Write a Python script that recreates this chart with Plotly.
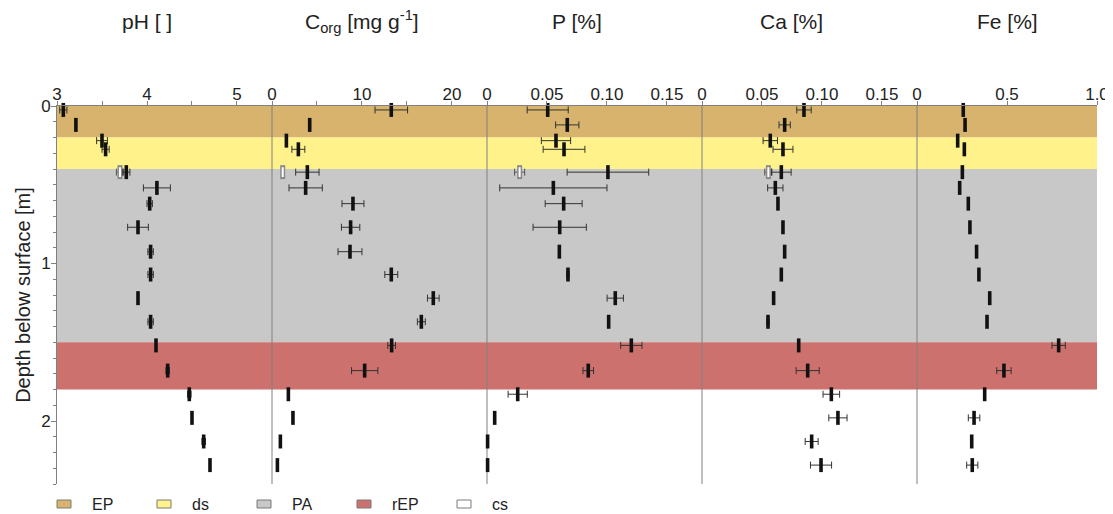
import plotly.graph_objects as go

# ---------------- data ----------------
depth = [0.025, 0.12, 0.22, 0.275, 0.42, 0.52, 0.62, 0.77, 0.925, 1.07,
         1.22, 1.37, 1.52, 1.68, 1.83, 1.98, 2.13, 2.28]

ph = [3.07, 3.21, 3.50, 3.54, 3.77, 4.11, 4.03, 3.90, 4.04, 4.04,
      3.90, 4.04, 4.10, 4.23, 4.47, 4.50, 4.63, 4.70]
ph_err = [0.04, None, 0.06, 0.04, 0.04, 0.15, 0.03, 0.115, 0.03, 0.03,
          None, 0.03, None, 0.02, 0.02, None, 0.02, None]

corg = [13.26, 4.19, 1.6, 2.93, 3.93, 3.74, 9.0, 8.74, 8.67, 13.26,
        17.93, 16.6, 13.3, 10.3, 1.82, 2.33, 0.93, 0.6]
corg_err = [1.81, 0.1, None, 0.72, 1.3, 1.85, 1.22, 1.02, 1.33, 0.72,
            0.65, 0.44, 0.43, 1.46, None, None, None, None]

p = [0.0506, 0.0669, 0.0575, 0.0642, 0.1008, 0.0553, 0.0639, 0.0606, 0.0603, 0.0675,
     0.1069, 0.1014, 0.1203, 0.0844, 0.0256, 0.0064, 0.0005, 0.0005]
p_err = [0.0171, 0.0097, 0.0122, 0.0174, 0.034, 0.0447, 0.0154, 0.0222, None, 0.001,
         0.0068, None, 0.0089, 0.0044, 0.008, None, None, None]

ca = [0.085, 0.0689, 0.0569, 0.0675, 0.0661, 0.0611, 0.0633, 0.0675, 0.0689, 0.0661,
      0.0597, 0.055, 0.0806, 0.0881, 0.1078, 0.1133, 0.0914, 0.0992]
ca_err = [0.006, 0.0047, 0.006, 0.0083, 0.0082, 0.0064, None, None, None, None,
          None, 0.001, None, 0.0096, 0.0069, 0.0076, 0.0054, 0.0088]

fe = [0.257, 0.267, 0.226, 0.263, 0.252, 0.237, 0.285, 0.294, 0.331, 0.344,
      0.404, 0.389, 0.787, 0.483, 0.376, 0.317, 0.304, 0.307]
fe_err = [None, None, None, None, None, None, None, None, None, None,
          None, None, 0.037, 0.04, None, 0.032, None, 0.031]

# cs (open symbols) samples
cs_depth = [0.42]
cs_ph = [3.70]
cs_ph_err = [0.04]
cs_corg = [1.19]
cs_corg_err = [None]
cs_p = [0.0272]
cs_p_err = [0.0042]
cs_ca = [0.0553]
cs_ca_err = [0.003]

# horizons
hz_names = ["EP", "ds", "PA", "rEP", "cs"]
hz_top = [0.0, 0.2, 0.4, 1.5]
hz_bot = [0.2, 0.4, 1.5, 1.8]
hz_colors = ["#D7B36D", "#FFF28A", "#C8C8C8", "#CC716D", "#FFFFFF"]

# panels
titles = ["pH [ ]", "C<sub>org</sub> [mg g<sup>-1</sup>]", "P [%]", "Ca [%]", "Fe [%]"]
title_pos = [4, 10, 0.075, 0.075, 0.5]
ranges = [[3, 5.389], [0, 23.9], [0, 0.1792], [0, 0.1792], [0, 1.0]]
tickvals = [[3, 4, 5], [0, 10, 20], [0, 0.05, 0.10, 0.15], [0, 0.05, 0.10, 0.15], [0, 0.5, 1.0]]
ticktext = [["3", "4", "5"], ["0", "10", "20"], ["0", "0.05", "0.10", "0.15"],
            ["0", "0.05", "0.10", "0.15"], ["0", "0.5", "1.0"]]
minor_dtick = [0.5, 5, None, None, None]

# ---------------- figure geometry ----------------
W, H = 1113, 514
OFF = 8                      # page body margin
PL, PR, PT, PB = 57, 1097, 106, 484   # plot area in screenshot pixels
ML = PL - OFF
MT = PT - OFF
MR = W - (PR - OFF)
MB = H - (PB - OFF)
PW = PR - PL
PHH = PB - PT
panel_px = [0, 215, 430, 645, 860, 1040]
domains = [[panel_px[i] / PW, panel_px[i + 1] / PW] for i in range(5)]


def py(ys):  # screenshot y -> paper y
    return (PB - ys) / PHH


def px(xs):  # screenshot x -> paper x
    return (xs - PL) / PW


FONT = "Liberation Sans, Arial, sans-serif"
AX = "#808080"
TXT = "#222222"

fig = go.Figure()

series = [(ph, ph_err), (corg, corg_err), (p, p_err), (ca, ca_err), (fe, fe_err)]
cs_series = [(cs_ph, cs_ph_err), (cs_corg, cs_corg_err), (cs_p, cs_p_err), (cs_ca, cs_ca_err)]

for i, (vals, errs) in enumerate(series):
    xa = "x" if i == 0 else f"x{i+1}"
    if i < len(cs_series):
        cv, ce = cs_series[i]
        fig.add_trace(go.Scatter(
            x=cv, y=cs_depth, xaxis=xa, yaxis="y", mode="markers", showlegend=False,
            error_x=dict(type="data", array=ce, visible=True, color="#555555", thickness=1, width=3.5),
            marker=dict(symbol="line-ns", size=10, line=dict(width=5, color="#8a8a8a")),
            cliponaxis=False, hoverinfo="skip"))
        fig.add_trace(go.Scatter(
            x=cv, y=cs_depth, xaxis=xa, yaxis="y", mode="markers", showlegend=False,
            marker=dict(symbol="line-ns", size=7, line=dict(width=2, color="#ffffff")),
            cliponaxis=False, hoverinfo="skip"))
    fig.add_trace(go.Scatter(
        x=vals, y=depth, xaxis=xa, yaxis="y", mode="markers", showlegend=False,
        error_x=dict(type="data", array=errs, visible=True, color="#333333", thickness=1, width=3.5),
        marker=dict(symbol="line-ns", size=10, line=dict(width=3.6, color="#111111")),
        cliponaxis=False))

layout = dict(
    width=W, height=H,
    margin=dict(l=ML, r=MR, t=MT, b=MB, pad=0),
    paper_bgcolor="white", plot_bgcolor="white",
    font=dict(family=FONT, color=TXT, size=16),
    showlegend=False,
    yaxis=dict(
        range=[2.4, 0], domain=[0, 1], anchor="x",
        tickvals=[0, 1, 2], ticktext=["0", "1", "2"],
        ticks="outside", ticklen=5, tickcolor=AX, tickwidth=1,
        ticklabelstandoff=-3,
        minor=dict(dtick=0.1, tick0=0, ticks="outside", ticklen=3, tickcolor=AX, showgrid=False),
        showline=True, linecolor=AX, linewidth=1,
        showgrid=False, zeroline=False,
        tickfont=dict(size=17, color=TXT, family=FONT),
        title=dict(text="Depth below surface [m]", font=dict(size=20, color=TXT, family=FONT), standoff=5),
        automargin=False,
    ),
)
for i in range(5):
    key = "xaxis" if i == 0 else f"xaxis{i+1}"
    ax = dict(
        domain=domains[i], range=ranges[i], anchor="y", side="top",
        tickmode="array", tickvals=tickvals[i], ticktext=ticktext[i],
        ticks="outside", ticklen=4, tickcolor=AX, tickwidth=1,
        ticklabelstandoff=-6,
        showline=True, linecolor=AX, linewidth=1,
        showgrid=False, zeroline=False, automargin=False,
        tickfont=dict(size=17, color=TXT, family=FONT),
    )
    if minor_dtick[i] is not None:
        ax["minor"] = dict(dtick=minor_dtick[i], tick0=ranges[i][0], ticks="outside",
                           ticklen=4, tickcolor=AX, showgrid=False)
    layout[key] = ax

fig.update_layout(**layout)

shapes = []
# horizon bands
for t, b, c in zip(hz_top, hz_bot, hz_colors[:4]):
    shapes.append(dict(type="rect", xref="paper", yref="y", x0=0, x1=1, y0=t, y1=b,
                       fillcolor=c, line=dict(width=0), layer="below"))
# panel dividers
for i in range(1, 5):
    shapes.append(dict(type="line", xref="paper", yref="paper", x0=domains[i][0], x1=domains[i][0],
                       y0=0, y1=1, line=dict(color=AX, width=1), layer="between"))
# legend swatches
for k, name in enumerate(hz_names):
    sx = PL + k * 100
    shapes.append(dict(type="rect", xref="paper", yref="paper", x0=px(sx), x1=px(sx + 14),
                       y0=py(500), y1=py(508),
                       fillcolor=hz_colors[k], line=dict(color="#7a7a7a", width=1)))
fig.update_layout(shapes=shapes)

annotations = []
for i in range(5):
    xr = "x" if i == 0 else f"x{i+1}"
    annotations.append(dict(text=titles[i], xref=xr, yref="paper", x=title_pos[i],
                            y=py(22), xanchor="center", yanchor="middle",
                            showarrow=False, font=dict(size=21, color=TXT, family=FONT)))
for k, name in enumerate(hz_names):
    annotations.append(dict(text=name, xref="paper", yref="paper", x=px(PL + k * 100 + 33),
                            y=py(504), xanchor="left", yanchor="middle",
                            showarrow=False, font=dict(size=16, color=TXT, family=FONT)))
fig.update_layout(annotations=annotations)

fig.write_html("out.html")
